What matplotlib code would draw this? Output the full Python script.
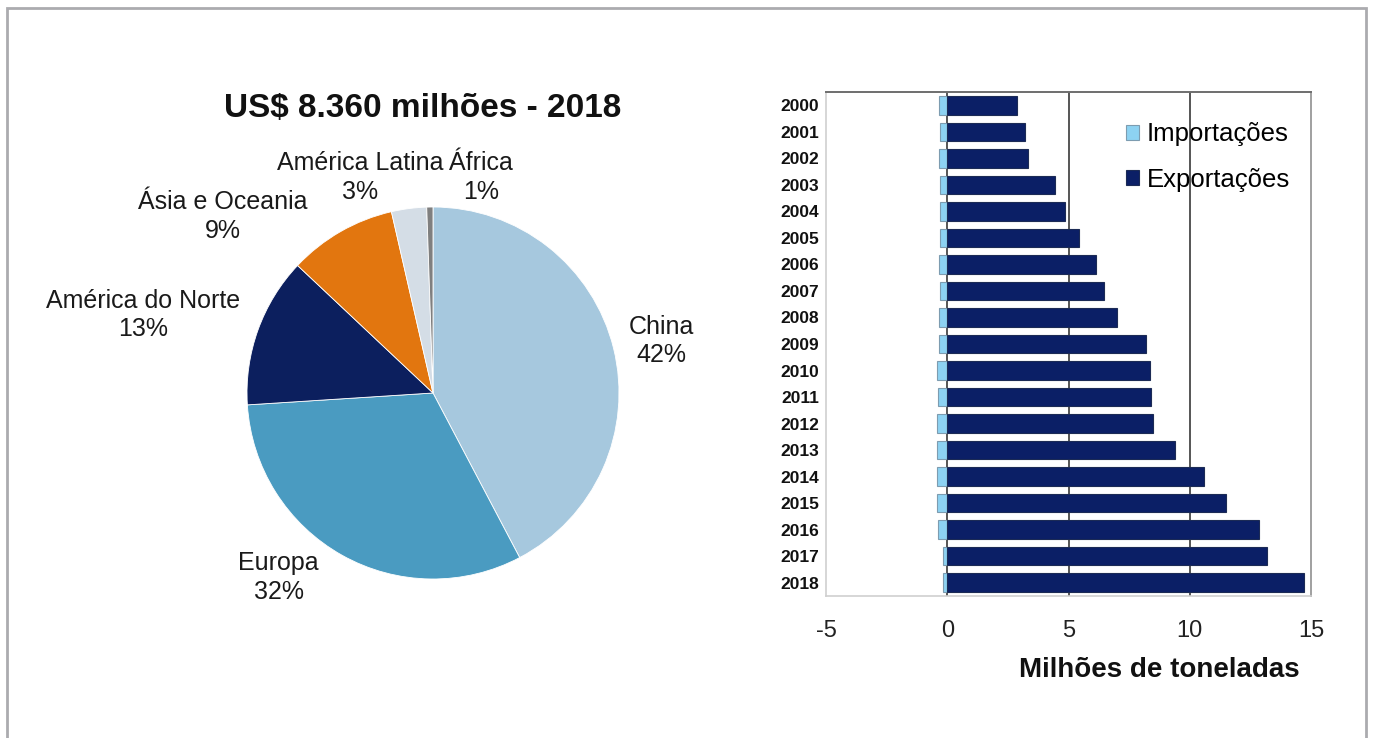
import matplotlib.pyplot as plt
import numpy as np
from matplotlib.patches import Rectangle

plt.rcParams["font.family"] = ["Liberation Sans", "DejaVu Sans"]

# ---- destination shares, US$ millions (2018) ----
REGIONS = ["China", "Europa", "América do Norte", "Ásia e Oceania",
           "América Latina", "África"]
VALUES_USD = [3535, 2650, 1090, 785, 255, 45]
PIE_COLORS = ["#a6c8de", "#4a9bc1", "#0c1f5e", "#e2760f", "#d4dde6", "#7f7f7f"]
# label anchor points, in units of the pie radius
LABEL_POS = [(1.23, 0.28), (-0.83, -0.99), (-1.56, 0.42),
             (-1.13, 0.95), (-0.39, 1.16), (0.26, 1.16)]

# ---- yearly volumes, millions of tonnes ----
YEARS = [str(y) for y in range(2000, 2019)]
EXPORTS = [2.88, 3.21, 3.31, 4.43, 4.85, 5.42, 6.12, 6.46, 7.02, 8.18,
           8.35, 8.42, 8.48, 9.41, 10.59, 11.48, 12.85, 13.18, 14.70]
IMPORTS = [-0.32, -0.30, -0.32, -0.30, -0.30, -0.30, -0.32, -0.30, -0.32, -0.32,
           -0.44, -0.37, -0.44, -0.44, -0.44, -0.44, -0.37, -0.19, -0.19]
X_TICKS = [-5, 0, 5, 10, 15]
GRID_X = [0, 5, 10]

W, H = 1373, 738
fig = plt.figure(figsize=(W / 100, H / 100), dpi=100)

# outer frame
fig.patches.append(Rectangle((7 / W, -0.02), (1366 - 7) / W, 1.02 - 7.5 / H,
                             transform=fig.transFigure, fill=False,
                             edgecolor="#ababaf", linewidth=2.0))

# ---- pie ----
R_PX = 186
cx, cy = 433, H - 393
xl, xr, yb, yt = -2.2, 2.2, -1.6, 1.8
ax_pie = fig.add_axes([(cx + xl * R_PX) / W, (cy + yb * R_PX) / H,
                       (xr - xl) * R_PX / W, (yt - yb) * R_PX / H])
ax_pie.pie(VALUES_USD, colors=PIE_COLORS, startangle=90, counterclock=False,
           wedgeprops=dict(edgecolor="white", linewidth=0.6))
ax_pie.set_aspect("auto")
ax_pie.set_xlim(xl, xr)
ax_pie.set_ylim(yb, yt)
ax_pie.axis("off")

total = sum(VALUES_USD)
for name, v, (lx, ly) in zip(REGIONS, VALUES_USD, LABEL_POS):
    pct = round(v / total * 100)
    ax_pie.text(lx, ly, f"{name}\n{pct}%", ha="center", va="center",
                fontsize=18, linespacing=1.25, color="#1a1a1a")

fig.text(423 / W, 1 - 108 / H, "US$ 8.360 milhões - 2018", ha="center",
         va="center", fontsize=24, fontweight="bold", color="#111111")

# ---- horizontal bars ----
ax = fig.add_axes([826 / W, (H - 596) / H, 485 / W, 504 / H])
y = np.arange(len(YEARS))
ax.barh(y, IMPORTS, height=0.7, color="#8dd2f2", edgecolor="#7d9cb0",
        linewidth=0.8, label="Importações", zorder=3)
ax.barh(y, EXPORTS, height=0.7, color="#0b1f66", edgecolor="#1c2b55",
        linewidth=0.8, label="Exportações", zorder=3)
for gx in GRID_X:
    ax.axvline(gx, color="#555555", linewidth=1.4, zorder=1)

ax.set_xlim(-5, 15)
ax.set_ylim(len(YEARS) - 0.5, -0.5)
ax.set_xticks(X_TICKS)
ax.set_xticklabels([str(t) for t in X_TICKS], fontsize=17, color="#222222")
ax.set_yticks(y)
ax.set_yticklabels(YEARS, fontsize=12.5, fontweight="bold", color="#111111")
ax.tick_params(axis="x", length=0, pad=17)
ax.tick_params(axis="y", length=0, pad=5)
ax.spines["top"].set_color("#6e6e6e")
ax.spines["top"].set_linewidth(1.4)
ax.spines["right"].set_color("#a0a0a0")
ax.spines["right"].set_linewidth(1.4)
for s in ("left", "bottom"):
    ax.spines[s].set_color("#cfcfcf")
    ax.spines[s].set_linewidth(1.2)

ax.legend(loc="upper left", bbox_to_anchor=(0.592, 0.965), frameon=False,
          fontsize=18.5, handlelength=0.5, handleheight=0.5,
          handletextpad=0.3, labelspacing=0.82, borderpad=0)

fig.text(1159 / W, 1 - 670 / H, "Milhões de toneladas", ha="center",
         va="center", fontsize=20, fontweight="bold", color="#111111")

fig.savefig("out.png", dpi=100)
